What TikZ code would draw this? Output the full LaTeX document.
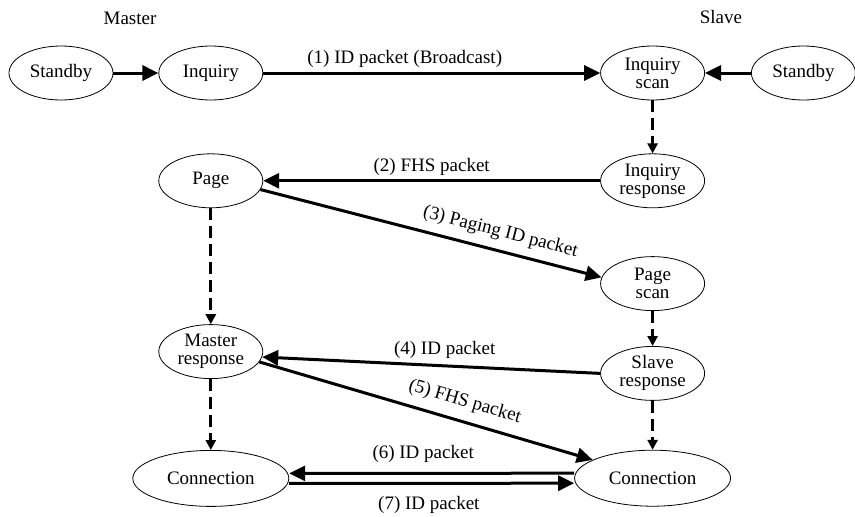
\documentclass[tikz,border=0pt]{standalone}
\usepackage{fontspec}
\setmainfont{Liberation Serif}
\usetikzlibrary{arrows.meta,positioning,shapes.geometric}

\begin{document}
\begin{tikzpicture}[
    every node/.style={font=\fontsize{19}{18}\selectfont},
    state/.style={draw, ellipse, line width=0.8pt, align=center, inner sep=0pt, minimum width=104pt, minimum height=54pt},
    conn/.style={state, minimum width=156pt, minimum height=56pt},
    packet/.style={-{Triangle[length=16pt, width=15pt]}, line width=3pt},
    transit/.style={-{Triangle[length=10pt, width=10pt]}, line width=3pt, dash pattern=on 12pt off 6pt}
]
\useasboundingbox (0,0) rectangle (855pt,-517pt);
\node (master) at (130pt,-18pt) {Master};
\node (slave) at (721pt,-17pt) {Slave};
\node[state] (standbyM) at (61pt,-73pt) {Standby};
\node[state, right=45pt of standbyM] (inquiry) {Inquiry};
\node[state, right=337pt of inquiry] (inqscan) {Inquiry\\scan};
\node[state, right=46pt of inqscan] (standbyS) {Standby};
\node[state, below=53pt of inqscan] (inqresp) {Inquiry\\response};
\node[state, left=337pt of inqresp] (page) {Page};
\node[state, below=48pt of inqresp] (pagescan) {Page\\scan};
\node[state, below=35pt of pagescan] (sresp) {Slave\\response};
\node[conn, below=49pt of sresp] (connS) {Connection};
\node[state, below=116pt of page] (mresp) {Master\\response};
\node[conn, below=71pt of mresp] (connM) {Connection};
\draw[packet] (standbyM) -- (inquiry);
\draw[packet] (inquiry) -- node[above=1pt, pos=0.42] {(1) ID packet (Broadcast)} (inqscan);
\draw[packet] (standbyS) -- (inqscan);
\draw[transit] (inqscan) -- (inqresp);
\draw[packet] (inqresp) -- node[above] {(2) FHS packet} (page);
\draw[packet] (page.-10) -- node[above=5pt, sloped, pos=0.69] {(3) Paging ID packet} (pagescan.173);
\draw[transit] (page) -- (mresp);
\draw[transit] (pagescan) -- (sresp);
\draw[packet] (sresp.west) -- node[above=2pt, pos=0.46] {(4) ID packet} (mresp.-6);
\draw[packet] (mresp.-12) -- node[above=6pt, sloped, pos=0.6] {(5) FHS packet} (connS.163);
\draw[transit] (mresp) -- (connM);
\draw[transit] (sresp) -- (connS);
\draw[packet] ([yshift=5pt]connS.west) -- node[above=6pt, pos=0.53] {(6) ID packet} ([yshift=5pt]connM.east);
\draw[packet] ([yshift=-5pt]connM.east) -- node[below=8pt, pos=0.49] {(7) ID packet} ([yshift=-5pt]connS.west);
\end{tikzpicture}
\end{document}
